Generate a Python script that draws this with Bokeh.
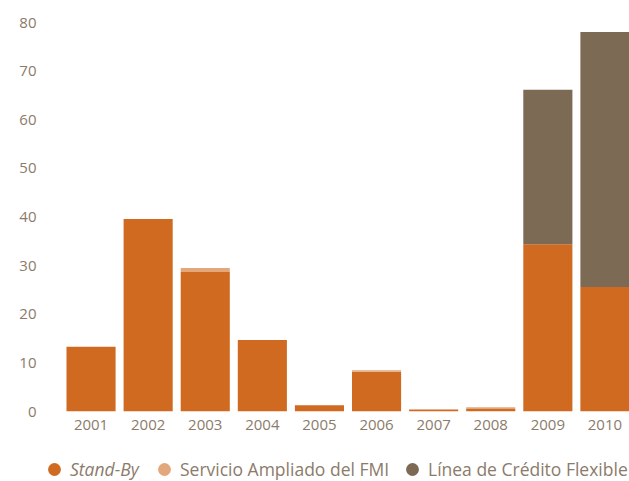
from bokeh.plotting import figure
from bokeh.layouts import column
from bokeh.models import Legend, LegendItem, FixedTicker, ColumnDataSource
from bokeh.embed import file_html
from bokeh.resources import INLINE

years = [2001, 2002, 2003, 2004, 2005, 2006, 2007, 2008, 2009, 2010]
year_labels = ["2001", "2002", "2003", "2004", "2005", "2006", "2007", "2008", "2009", "2010"]
stand_by = [13.3, 39.6, 28.7, 14.7, 1.3, 8.2, 0.4, 0.5, 34.4, 25.6]
servicio_ampliado = [0.0, 0.0, 0.8, 0.0, 0.0, 0.3, 0.0, 0.4, 0.0, 0.0]
linea_credito = [0.0, 0.0, 0.0, 0.0, 0.0, 0.0, 0.0, 0.0, 31.8, 52.5]
series_names = ["Stand-By", "Servicio Ampliado del FMI", "Línea de Crédito Flexible"]
y_ticks = [0, 10, 20, 30, 40, 50, 60, 70, 80]

colors = ["#CF6A20", "#E2A87C", "#7C6A55"]
text_color = "#8B7B6A"
font = "Open Sans"

data = {"x": years, "sb": stand_by, "sa": servicio_ampliado, "lc": linea_credito}
src = ColumnDataSource(data)

p = figure(width=629, height=441, output_backend="svg", toolbar_location=None,
           x_range=(2000.43, 2010.43), y_range=(0, 82.5),
           min_border_left=58, min_border_right=0, min_border_top=10, min_border_bottom=30)
p.frame_align = False
p.outline_line_color = None
p.xgrid.grid_line_color = None
p.ygrid.grid_line_color = None

r = p.vbar_stack(["sb", "sa", "lc"], x="x", width=0.86, color=colors, source=src, line_color=None)

p.xaxis.ticker = FixedTicker(ticks=years)
p.xaxis.major_label_overrides = {y: l for y, l in zip(years, year_labels)}
p.yaxis.ticker = FixedTicker(ticks=y_ticks)
for ax in (p.xaxis[0], p.yaxis[0]):
    ax.axis_line_color = None
    ax.major_tick_line_color = None
    ax.minor_tick_line_color = None
    ax.major_tick_out = 0
    ax.major_tick_in = 0
    ax.major_label_text_color = text_color
    ax.major_label_text_font = font
    ax.major_label_text_font_size = "15px"
p.xaxis.major_label_standoff = 8
p.yaxis.major_label_standoff = 22

# legend strip below the chart
lg = figure(width=629, height=40, output_backend="svg", toolbar_location=None,
            x_range=(0, 1), y_range=(0, 1), x_axis_type=None, y_axis_type=None,
            min_border_left=0, min_border_right=0, min_border_top=0, min_border_bottom=0)
lg.frame_align = False
lg.outline_line_color = None
lg.xgrid.grid_line_color = None
lg.ygrid.grid_line_color = None

positions = [(38, -4), (148, -4), (396, -4)]
styles = ["italic", "normal", "normal"]
for col, name, pos, st in zip(colors, series_names, positions, styles):
    dummy = lg.scatter(x=[-5], y=[-5], marker="circle", size=13, color=col, line_color=None)
    leg = Legend(items=[LegendItem(label=name, renderers=[dummy])], location=pos,
                 orientation="horizontal", padding=0, margin=0, spacing=0,
                 glyph_width=32, glyph_height=32, label_height=16, label_standoff=-5,
                 label_text_font=font, label_text_font_size="17.5px",
                 label_text_font_style=st, label_text_color=text_color,
                 border_line_color=None, background_fill_alpha=0)
    lg.add_layout(leg, "center")

layout = column(p, lg, spacing=0)
open("out.html", "w").write(file_html(layout, INLINE))
